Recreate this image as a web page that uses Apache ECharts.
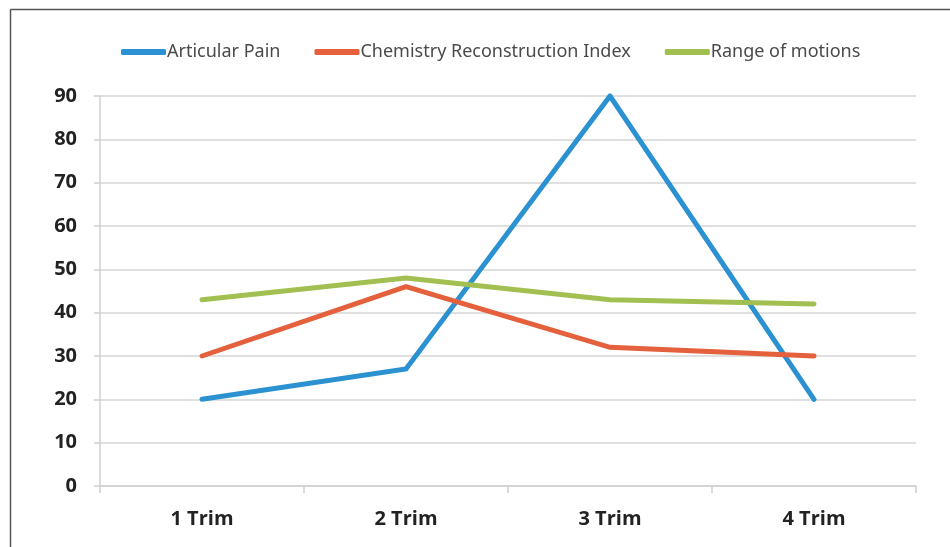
<!DOCTYPE html>
<html>
<head>
<meta charset="utf-8">
<script src="https://cdn.jsdelivr.net/npm/echarts@6/dist/echarts.min.js"></script>
<style>
html,body{margin:0;padding:0;background:#fff;}
#chart{width:950px;height:547px;}
</style>
</head>
<body>
<div id="chart"></div>
<script>
var categories = ['1 Trim', '2 Trim', '3 Trim', '4 Trim'];
var seriesNames = ['Articular Pain', 'Chemistry Reconstruction Index', 'Range of motions'];
var articularPain = [20, 27, 90, 20];
var chemistryIndex = [30, 46, 32, 30];
var rangeOfMotions = [43, 48, 43, 42];
var colors = ['#2B91D1', '#E5603D', '#A2BF51'];

var chart = echarts.init(document.getElementById('chart'), null, {renderer: 'canvas'});
var legendFont = "'Noto Sans', sans-serif";
var axisFont = "'Open Sans', 'Noto Sans', sans-serif";

function mk(name, data, color) {
  return {
    name: name, type: 'line', data: data, showSymbol: false, symbol: 'none',
    lineStyle: {width: 5, color: color, cap: 'round', join: 'miter'},
    itemStyle: {color: color}, animation: false
  };
}

chart.setOption({
  animation: false,
  graphic: [
    {type: 'line', shape: {x1: 10.5, y1: 9.5, x2: 950, y2: 9.5}, style: {stroke: '#555', lineWidth: 1.5}},
    {type: 'line', shape: {x1: 10.5, y1: 9.5, x2: 10.5, y2: 547}, style: {stroke: '#555', lineWidth: 1.5}}
  ],
  legend: {
    top: 38, left: 116,
    itemWidth: 45, itemHeight: 6, itemGap: 34,
    icon: 'roundRect',
    textStyle: {fontFamily: legendFont, fontSize: 18, color: '#4a4a4a', padding: [0, 0, 0, -4]},
    data: seriesNames
  },
  grid: {left: 100, right: 34, top: 96, bottom: 61},
  xAxis: {
    type: 'category', data: categories, boundaryGap: true,
    axisLine: {lineStyle: {color: '#d0d0d0', width: 1.5}},
    axisTick: {show: true, length: 7, lineStyle: {color: '#d0d0d0', width: 1.5}},
    axisLabel: {fontFamily: axisFont, fontWeight: 'bold', fontSize: 20, color: '#222', margin: 23}
  },
  yAxis: {
    type: 'value', min: 0, max: 90, interval: 10,
    axisLine: {show: true, lineStyle: {color: '#d0d0d0', width: 1.5}},
    axisTick: {show: true, length: 6, lineStyle: {color: '#d0d0d0', width: 1.5}},
    splitLine: {lineStyle: {color: '#d6d6d6', width: 1.5}},
    axisLabel: {fontFamily: axisFont, fontWeight: 'bold', fontSize: 20, color: '#222', margin: 23}
  },
  series: [
    mk(seriesNames[0], articularPain, colors[0]),
    mk(seriesNames[1], chemistryIndex, colors[1]),
    mk(seriesNames[2], rangeOfMotions, colors[2])
  ]
});
</script>
</body>
</html>
